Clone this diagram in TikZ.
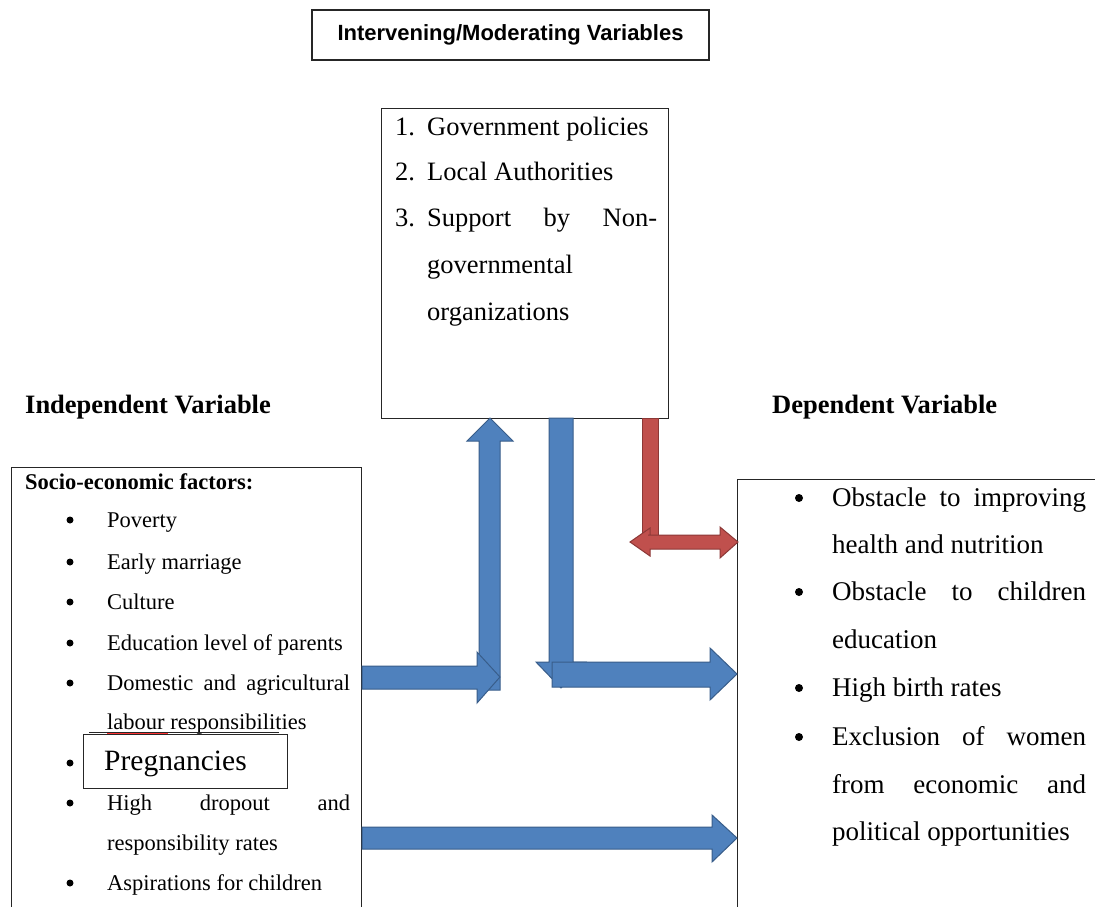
\documentclass[tikz,border=0pt]{standalone}
\usepackage{fontspec}
\setmainfont{Liberation Serif}
\newfontfamily\arialfont{Liberation Sans}
\definecolor{arrowblue}{HTML}{4F81BD}
\definecolor{arrowblueedge}{HTML}{385D8A}
\definecolor{arrowred}{HTML}{C0504D}
\definecolor{arrowrededge}{HTML}{8C3836}
\begin{document}
\begin{tikzpicture}[x=1pt,y=-1pt,
  box/.style={draw=black!85, line width=1.1pt, inner sep=0pt},
  lt/.style={anchor=mid west, inner sep=0pt, yshift=-5pt, font=\fontsize{22.5}{27}\selectfont},
  rt/.style={anchor=mid west, inner sep=0pt, yshift=-6pt, font=\fontsize{27}{32}\selectfont},
  mt/.style={anchor=mid west, inner sep=0pt, yshift=-6pt, font=\fontsize{26.5}{31}\selectfont},
  hd/.style={anchor=mid west, inner sep=0pt, yshift=-6pt, font=\bfseries\fontsize{26.5}{31}\selectfont},
  lbul/.style={circle, fill=black, inner sep=0pt, minimum size=7pt},
  rbul/.style={circle, fill=black, inner sep=0pt, minimum size=8pt},
  bluearrow/.style={fill=arrowblue, draw=arrowblueedge, line width=1pt, line join=miter},
  redarrow/.style={fill=arrowred, draw=arrowrededge, line width=1pt, line join=miter}]
\useasboundingbox (0,0) rectangle (1095,907);
\clip (0,0) rectangle (1095,907);
\fill[white] (0,0) rectangle (1095,907);

% title
\node[box, minimum width=397pt, minimum height=50pt,
      font=\arialfont\bfseries\fontsize{22}{26}\selectfont] (title) at (510.5,35)
      {Intervening/Moderating Variables};

% boxes
\node[box, anchor=north west, minimum width=287pt, minimum height=310pt] (mod) at (381,108) {};
\node[box, anchor=north west, minimum width=350pt, minimum height=480pt] (indep) at (11,467) {};
\node[box, anchor=north west, minimum width=420pt, minimum height=480pt] (dep) at (737,479) {};

% headings
\node[hd] (hind) at (25,405) {Independent Variable};
\node[hd] (hdep) at (772,405) {Dependent Variable};

% moderating list
\node[mt] (m1n) at (395,127) {1.};
\node[mt] (m1) at (427,127) {Government policies};
\node[mt] (m2n) at (395,172) {2.};
\node[mt] (m2) at (427,172) {Local Authorities};
\node[mt] (m3n) at (395,218) {3.};
\node[mt] (m3) at (427,218) {\makebox[230pt][s]{Support by Non-}};
\node[mt] (m3b) at (427,265) {governmental};
\node[mt] (m3c) at (427,312) {organizations};

% independent list
\node[lt, font=\bfseries\fontsize{22.5}{27}\selectfont] (l0) at (25,482) {Socio-economic factors:};
\foreach \yy in {520,562,602,643,683,763,803,883} {\node[lbul] at (70,\yy) {};}
\node[lt] (l1) at (107,520) {Poverty};
\node[lt] (l2) at (107,562) {Early marriage};
\node[lt] (l3) at (107,602) {Culture};
\node[lt] (l4) at (107,643) {Education level of parents};
\node[lt] (l5) at (107,683) {\makebox[243pt][s]{Domestic and agricultural}};
\node[lt] (l5b) at (107,722) {labour responsibilities};
\draw[red!80, line width=0.8pt] (107,733) -- (168,733);
\node[lt] (l7) at (107,803) {\makebox[243pt][s]{High dropout and}};
\node[lt] (l7b) at (107,843) {responsibility rates};
\node[lt] (l8) at (107,883) {Aspirations for children};

% pregnancies box
\draw[black!85, line width=1pt] (89,732) -- (279,732);
\node[box, fill=white, anchor=north west, minimum width=204pt, minimum height=54pt] (preg) at (83,734) {};
\node[anchor=mid west, inner sep=0pt, yshift=-6pt, font=\fontsize{29.5}{34}\selectfont] (pregt) at (104,762) {Pregnancies};

% dependent list
\foreach \yy in {498,592,688,737} {\node[rbul] at (799,\yy) {};}
\node[rt] (r1) at (832,498) {\makebox[254pt][s]{Obstacle to improving}};
\node[rt] (r1b) at (832,545) {health and nutrition};
\node[rt] (r2) at (832,592) {\makebox[254pt][s]{Obstacle to children}};
\node[rt] (r2b) at (832,640) {education};
\node[rt] (r3) at (832,688) {High birth rates};
\node[rt] (r4) at (832,737) {\makebox[254pt][s]{Exclusion of women}};
\node[rt] (r4b) at (832,785) {\makebox[254pt][s]{from economic and}};
\node[rt] (r4c) at (832,832) {political opportunities};

% arrows: independent -> moderating (up)
\draw[bluearrow] (479,690) -- (479,441) -- (467,441) -- (490,418) -- (513,441) -- (500,441) -- (500,690) -- cycle;
\draw[bluearrow] (362,666) -- (477,666) -- (477,652) -- (500,677) -- (477,703) -- (477,689) -- (362,689) -- cycle;

% moderating -> dependent (blue)
\draw[bluearrow] (549,418) -- (573,418) -- (573,662) -- (586,662) -- (561,688) -- (536,662) -- (549,662) -- cycle;
\draw[bluearrow] (552,662) -- (710,662) -- (710,648) -- (737,674) -- (710,700) -- (710,687) -- (552,687) -- cycle;

% moderating -> dependent (red)
\draw[redarrow] (642,418) -- (658,418) -- (658,548) -- (642,548) -- cycle;
\draw[redarrow] (648,535) -- (720,535) -- (720,527) -- (738,542) -- (720,558) -- (720,549) -- (650,549) -- (650,556) -- (630,542) -- (650,528) -- (650,535) -- cycle;

% lower direct arrow
\draw[bluearrow] (362,827) -- (712,827) -- (712,815) -- (737,838) -- (712,862) -- (712,849) -- (362,849) -- cycle;
\end{tikzpicture}
\end{document}
